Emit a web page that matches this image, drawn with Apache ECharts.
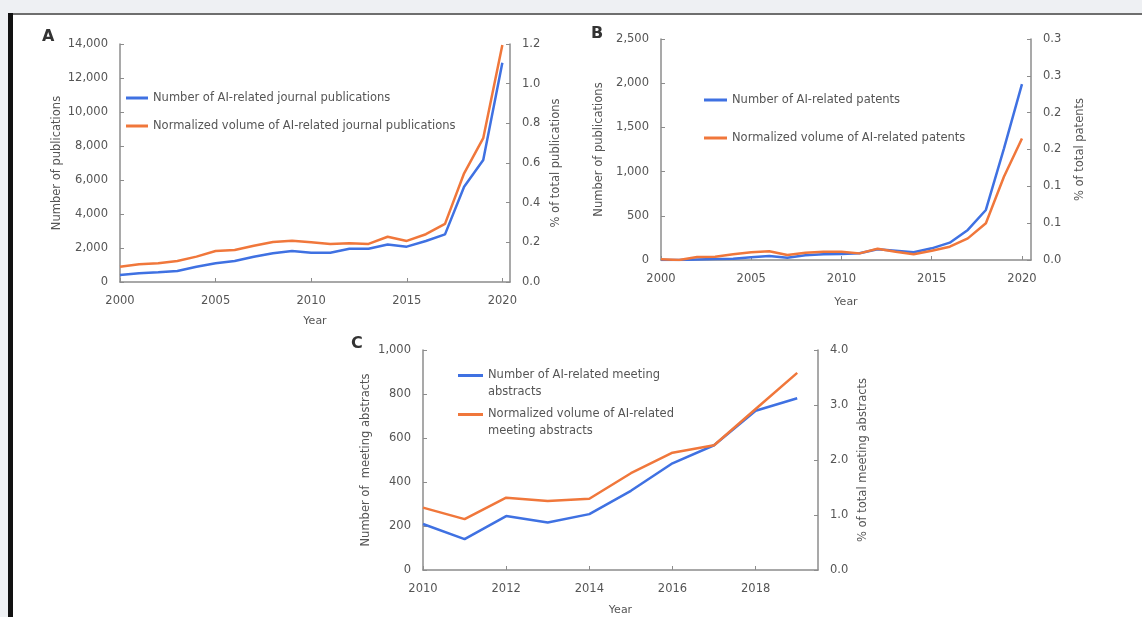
<!DOCTYPE html>
<html>
<head>
<meta charset="utf-8">
<script src="https://cdn.jsdelivr.net/npm/echarts@6/dist/echarts.min.js"></script>
<style>
  html, body { margin: 0; padding: 0; background: #fff; }
  #chart { width: 1142px; height: 617px; }
</style>
</head>
<body>
<div id="chart"></div>
<script>
// panel A - journal publications
const yearsA = [2000, 2001, 2002, 2003, 2004, 2005, 2006, 2007, 2008, 2009, 2010,
  2011, 2012, 2013, 2014, 2015, 2016, 2017, 2018, 2019, 2020]
const journalCount = [410, 510, 570, 650, 900, 1100, 1235, 1490, 1690, 1820, 1725,
  1725, 1960, 1960, 2210, 2080, 2410, 2800, 5600, 7180, 12900]
const journalPct = [0.077, 0.089, 0.094, 0.106, 0.128, 0.156, 0.161, 0.183, 0.202, 0.208, 0.200,
  0.192, 0.195, 0.192, 0.228, 0.207, 0.241, 0.293, 0.548, 0.725, 1.195]

// panel B - patents
const yearsB = yearsA
const patentCount = [0, 0, 5, 10, 15, 30, 45, 26, 53, 64, 68,
  76, 121, 105, 87, 132, 196, 340, 566, 1260, 1990]
const patentPct = [0.001, 0.0, 0.004, 0.0045, 0.0077, 0.0104, 0.012, 0.0068, 0.0099, 0.0113, 0.0113,
  0.009, 0.0152, 0.0113, 0.0077, 0.0126, 0.018, 0.0294, 0.0498, 0.113, 0.165]

// panel C - meeting abstracts
const yearsC = [2010, 2011, 2012, 2013, 2014, 2015, 2016, 2017, 2018, 2019]
const meetingCount = [209, 140, 245, 216, 254, 360, 485, 567, 724, 781]
const meetingPct = [1.134, 0.925, 1.314, 1.254, 1.296, 1.76, 2.132, 2.269, 2.927, 3.584]

const ticksA = [2000, 2005, 2010, 2015, 2020]
const ticksC = [2010, 2012, 2014, 2016, 2018]

const names = {
  a1: 'Number of AI-related journal publications',
  a2: 'Normalized volume of AI-related journal publications',
  b1: 'Number of AI-related patents',
  b2: 'Normalized volume of AI-related patents',
  c1: 'Number of AI-related meeting abstracts',
  c2: 'Normalized volume of AI-related meeting abstracts'
}

const BLUE = '#3f71e2'
const ORANGE = '#f0773b'
const AXIS = '#8c8c8c'
const TXT = '#555'
const FONT = 'DejaVu Sans'
const FS = 11.5

const pairs = (xs, ys) => xs.map((x, i) => [x, ys[i]])
const oneDec = v => (Math.round(v * 10 + 1e-6) / 10).toFixed(1)
const commas = v => v.toLocaleString('en-US')

function xAxisOf(grid, min, max, ticks, gap) {
  return {
    type: 'value', gridIndex: grid, min: min, max: max,
    name: 'Year', nameLocation: 'middle', nameGap: gap,
    nameTextStyle: { color: TXT, fontFamily: FONT, fontSize: 11 },
    axisLine: { lineStyle: { color: AXIS, width: 1.5 } },
    axisTick: { inside: true, length: 4, customValues: ticks, lineStyle: { color: AXIS } },
    axisLabel: { customValues: ticks, margin: 13, color: TXT, fontFamily: FONT, fontSize: FS,
      formatter: v => String(v) },
    splitLine: { show: false }
  }
}

function yAxisOf(grid, pos, max, interval, name, gap, fmt) {
  return {
    type: 'value', gridIndex: grid, position: pos, min: 0, max: max, interval: interval,
    name: name, nameLocation: 'middle', nameRotate: 90, nameGap: gap,
    nameTextStyle: { color: TXT, fontFamily: FONT, fontSize: 11.5 },
    axisLine: { show: true, lineStyle: { color: AXIS, width: 1.5 } },
    axisTick: { show: true, inside: true, length: 4, lineStyle: { color: AXIS } },
    axisLabel: { margin: 12, color: TXT, fontFamily: FONT, fontSize: FS, formatter: fmt },
    splitLine: { show: false }
  }
}

function lineOf(name, xi, yi, data, color) {
  return {
    name: name, type: 'line', xAxisIndex: xi, yAxisIndex: yi, data: data,
    symbol: 'none', showSymbol: false, smooth: false,
    lineStyle: { color: color, width: 2.5 }, itemStyle: { color: color },
    animation: false
  }
}

const legendText = { color: TXT, fontFamily: FONT, fontSize: 11.5, lineHeight: 14 }
const legendBase = { orient: 'vertical', icon: 'rect', itemHeight: 3, padding: 0, selectedMode: false }

const chart = echarts.init(document.getElementById('chart'))
chart.setOption({
  backgroundColor: '#fff',
  animation: false,
  grid: [
    { left: 120, top: 44, width: 390, height: 238 },
    { left: 661, top: 39, width: 370, height: 221 },
    { left: 423, top: 350, width: 395, height: 223 }
  ],
  legend: [
    Object.assign({ data: [names.a1, names.a2], left: 126, top: 91, itemGap: 14,
      itemWidth: 22, textStyle: legendText }, legendBase),
    Object.assign({ data: [names.b1, names.b2], left: 704, top: 93, itemGap: 24,
      itemWidth: 23, textStyle: legendText }, legendBase),
    Object.assign({ data: [names.c1, names.c2], left: 458, top: 350, itemGap: -12,
      itemWidth: 25,
      // blank first line keeps the icon level with the first text line
      formatter: n => n === names.c1 ? ' \nNumber of AI-related meeting\nabstracts'
        : ' \nNormalized volume of AI-related\nmeeting abstracts',
      textStyle: Object.assign({}, legendText, { lineHeight: 17 }) }, legendBase)
  ],
  xAxis: [
    xAxisOf(0, 2000, 2020.4, ticksA, 34),
    xAxisOf(1, 2000, 2020.5, ticksA, 37),
    xAxisOf(2, 2010, 2019.5, ticksC, 35)
  ],
  yAxis: [
    yAxisOf(0, 'left', 14000, 2000, 'Number of publications', 57, commas),
    yAxisOf(0, 'right', 1.2, 0.2, '% of total publications', 40, oneDec),
    yAxisOf(1, 'left', 2500, 500, 'Number of publications', 56, commas),
    yAxisOf(1, 'right', 0.3, 0.05, '% of total patents', 43, oneDec),
    yAxisOf(2, 'left', 1000, 200, 'Number of  meeting abstracts', 51, commas),
    yAxisOf(2, 'right', 4, 1, '% of total meeting abstracts', 39, oneDec)
  ],
  series: [
    lineOf(names.a1, 0, 0, pairs(yearsA, journalCount), BLUE),
    lineOf(names.a2, 0, 1, pairs(yearsA, journalPct), ORANGE),
    lineOf(names.b1, 1, 2, pairs(yearsB, patentCount), BLUE),
    lineOf(names.b2, 1, 3, pairs(yearsB, patentPct), ORANGE),
    lineOf(names.c1, 2, 4, pairs(yearsC, meetingCount), BLUE),
    lineOf(names.c2, 2, 5, pairs(yearsC, meetingPct), ORANGE)
  ],
  graphic: [
    // page frame round the figure
    { type: 'rect', silent: true, shape: { x: 0, y: 0, width: 1142, height: 13 }, style: { fill: '#eef0f3' } },
    { type: 'rect', silent: true, shape: { x: 0, y: 13, width: 8, height: 604 }, style: { fill: '#eef0f3' } },
    { type: 'rect', silent: true, shape: { x: 8, y: 13, width: 1134, height: 2 }, style: { fill: '#6e6e6e' } },
    { type: 'rect', silent: true, shape: { x: 8, y: 13, width: 5, height: 604 }, style: { fill: '#111' } },
    // panel letters
    { type: 'text', left: 42, top: 29, style: { text: 'A', fill: '#333', font: 'bold 16px "DejaVu Sans"' } },
    { type: 'text', left: 591, top: 26, style: { text: 'B', fill: '#333', font: 'bold 16px "DejaVu Sans"' } },
    { type: 'text', left: 351, top: 336, style: { text: 'C', fill: '#333', font: 'bold 16px "DejaVu Sans"' } }
  ]
})
</script>
</body>
</html>
